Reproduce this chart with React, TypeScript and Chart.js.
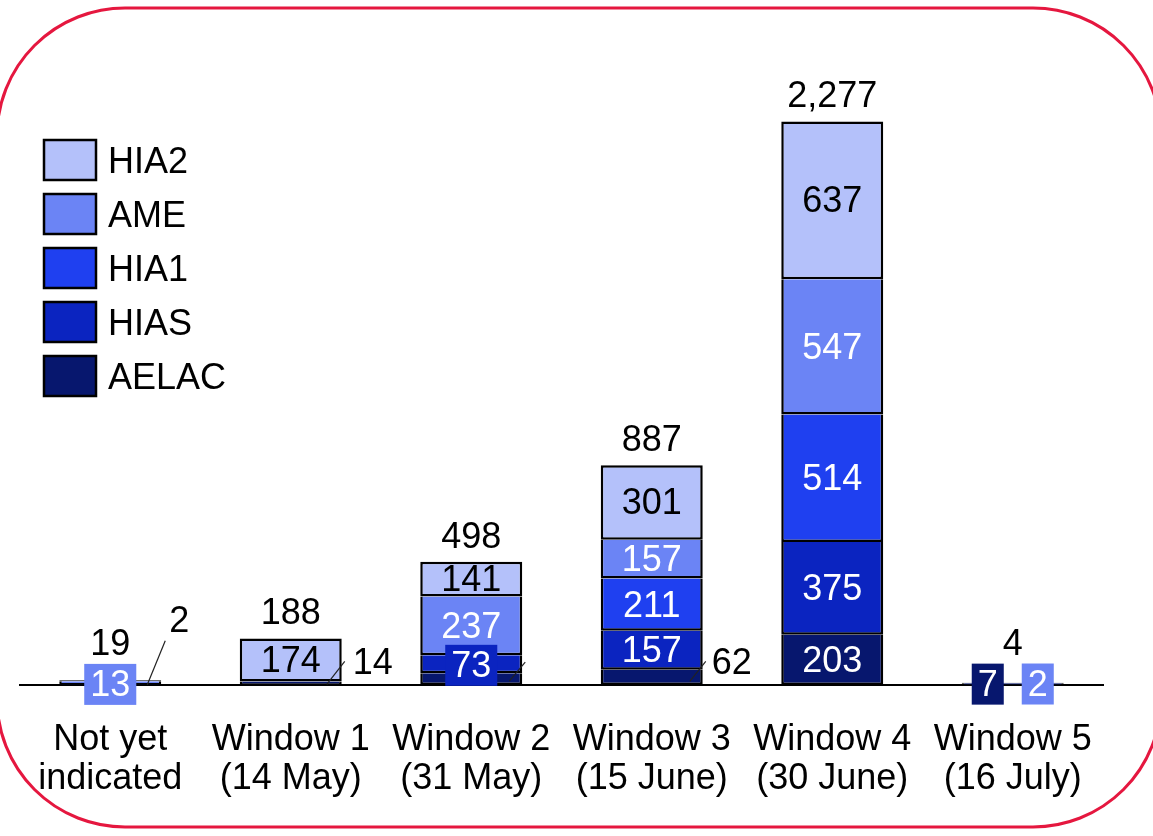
import React, { useEffect, useRef } from "react";
import { Chart, registerables } from "chart.js";

Chart.register(...registerables);

// ---- data ----
const categories = [
  ["Not yet", "indicated"],
  ["Window 1", "(14 May)"],
  ["Window 2", "(31 May)"],
  ["Window 3", "(15 June)"],
  ["Window 4", "(30 June)"],
  ["Window 5", "(16 July)"],
];
const seriesNames = ["AELAC", "HIAS", "HIA1", "AME", "HIA2"];
const AELAC = [2, 14, 47, 62, 203, 7];
const HIAS = [0, 0, 73, 157, 375, 0];
const HIA1 = [0, 0, 0, 211, 514, 0];
const AME = [13, 0, 237, 157, 547, 2];
const HIA2 = [4, 174, 141, 301, 637, 0];
const totals = [19, 188, 498, 887, 2277, 4];

const seriesValues = [AELAC, HIAS, HIA1, AME, HIA2];
const colors = ["#07176e", "#0b24c0", "#1f40f0", "#6b84f5", "#b4c1fa"];
const textColors = ["#ffffff", "#ffffff", "#ffffff", "#ffffff", "#000000"];

const FONT = '"Liberation Sans", Arial, Helvetica, sans-serif';
const FS = 36;

// label placement tweaks for small segments (key = datasetIndex-dataIndex)
type Spec =
  | { kind: "box"; dx: number; dy?: number }
  | { kind: "hide" }
  | { kind: "leader"; x1: number; y1: number; x2: number; y2: number; tx?: number; ty?: number; align?: CanvasTextAlign; noText?: boolean };
const specials: Record<string, Spec> = {
  "3-0": { kind: "box", dx: 0, dy: 1.5 },
  "0-0": { kind: "leader", x1: 37, y1: 0, x2: 55, y2: -44, tx: 69, ty: -63, align: "center" },
  "4-0": { kind: "hide" },
  "0-1": { kind: "leader", x1: 36, y1: 1, x2: 54, y2: -22, tx: 62, ty: -19, align: "left" },
  "0-2": { kind: "leader", x1: 38, y1: 2, x2: 54, y2: -17, noText: true },
  "1-2": { kind: "box", dx: 0, dy: 1 },
  "0-3": { kind: "leader", x1: 38, y1: 4, x2: 54, y2: -16, tx: 60, ty: -13, align: "left" },
  "0-5": { kind: "box", dx: -25 },
  "3-5": { kind: "box", dx: 25, dy: 1 },
};

const framePlugin = {
  id: "frame",
  beforeDraw(chart: any) {
    const ctx = chart.ctx;
    ctx.save();
    ctx.fillStyle = "#ffffff";
    ctx.fillRect(0, 0, chart.width, chart.height);
    ctx.strokeStyle = "#e5173f";
    ctx.lineWidth = 3;
    ctx.beginPath();
    (ctx as any).roundRect(-3, 8, 1164, 819, 128);
    ctx.stroke();
    ctx.restore();
  },
};

const legendPlugin = {
  id: "customLegend",
  afterDraw(chart: any) {
    const ctx = chart.ctx;
    ctx.save();
    ctx.font = `${FS}px ${FONT}`;
    ctx.textBaseline = "middle";
    ctx.textAlign = "left";
    const order = [4, 3, 2, 1, 0];
    order.forEach((d, k) => {
      const y = 140 + k * 54;
      ctx.fillStyle = colors[d];
      ctx.fillRect(44, y, 52, 40);
      ctx.strokeStyle = "#000";
      ctx.lineWidth = 2.5;
      ctx.strokeRect(44, y, 52, 40);
      ctx.fillStyle = "#000";
      ctx.fillText(seriesNames[d], 108, y + 23);
    });
    ctx.restore();
  },
};

const labelPlugin = {
  id: "valueLabels",
  afterDatasetsDraw(chart: any) {
    const ctx = chart.ctx;
    const yScale = chart.scales.y;
    ctx.save();
    ctx.font = `${FS}px ${FONT}`;
    ctx.textBaseline = "middle";
    chart.data.datasets.forEach((ds: any, d: number) => {
      const meta = chart.getDatasetMeta(d);
      meta.data.forEach((el: any, i: number) => {
        const v = ds.data[i];
        if (!v) return;
        const x = el.x;
        const cy = (el.y + el.base) / 2;
        const text = String(v);
        const spec = specials[`${d}-${i}`];
        if (spec && spec.kind === "hide") return;
        if (spec && spec.kind === "box") {
          const w = ctx.measureText(text).width + 12;
          const bx = x + spec.dx;
          const by = cy + (spec.dy || 0);
          ctx.fillStyle = colors[d];
          ctx.fillRect(bx - w / 2, by - 20.5, w, 41);
          ctx.fillStyle = "#ffffff";
          ctx.textAlign = "center";
          ctx.fillText(text, bx, by + 2);
          return;
        }
        if (spec && spec.kind === "leader") {
          ctx.strokeStyle = "#222";
          ctx.lineWidth = 1.2;
          ctx.beginPath();
          ctx.moveTo(x + spec.x1, cy + spec.y1);
          ctx.lineTo(x + spec.x2, cy + spec.y2);
          ctx.stroke();
          if (!spec.noText) {
            ctx.fillStyle = "#000";
            ctx.textAlign = spec.align || "left";
            ctx.fillText(text, x + (spec.tx || 0), cy + (spec.ty || 0));
          }
          return;
        }
        ctx.fillStyle = textColors[d];
        ctx.textAlign = "center";
        ctx.fillText(text, x, cy + 2);
      });
    });
    // totals
    const base = yScale.getPixelForValue(0);
    const meta0 = chart.getDatasetMeta(0);
    totals.forEach((t, i) => {
      const x = meta0.data[i].x;
      let sum = 0;
      seriesValues.forEach((s) => (sum += s[i]));
      const top = yScale.getPixelForValue(sum);
      const y = Math.min(top - 24, base - 40);
      ctx.fillStyle = "#000";
      ctx.textAlign = "center";
      ctx.fillText(t.toLocaleString("en-US"), x, y);
    });
    ctx.restore();
  },
};

export default function App() {
  const ref = useRef<HTMLCanvasElement | null>(null);
  useEffect(() => {
    if (!ref.current) return;
    const datasets = seriesValues.map((vals, d) => ({
      label: seriesNames[d],
      data: vals,
      backgroundColor: colors[d],
      borderColor: "#000000",
      borderSkipped: false as any,
      borderWidth: (c: any) => {
        if (c.type !== "data") return 2;
        const i = c.dataIndex;
        if (!seriesValues[d][i]) return 0;
        const isTop = seriesValues.slice(d + 1).every((s) => !s[i]);
        return { top: isTop ? 2.5 : 0, bottom: 2.5, left: 2.5, right: 2.5 };
      },
      barPercentage: 0.565,
      categoryPercentage: 1,
    }));
    const chart = new Chart(ref.current, {
      type: "bar",
      data: { labels: categories as any, datasets },
      options: {
        responsive: false,
        animation: false,
        maintainAspectRatio: false,
        layout: { padding: { left: 20, right: 50, top: 66, bottom: 0 } },
        plugins: { legend: { display: false }, tooltip: { enabled: false }, title: { display: false } },
        scales: {
          x: {
            stacked: true,
            grid: { display: false, drawTicks: false },
            border: { display: true, color: "#000000", width: 2 },
            ticks: {
              color: "#000000",
              font: { family: FONT, size: FS, lineHeight: 1.083 },
              padding: 36,
              maxRotation: 0,
              autoSkip: false,
            },
            afterFit: (s: any) => {
              s.height = 151;
            },
          },
          y: {
            stacked: true,
            display: false,
            min: 0,
            max: 2500,
          },
        },
      },
      plugins: [framePlugin, labelPlugin, legendPlugin],
    });
    return () => chart.destroy();
  }, []);
  return (
    <div style={{ position: "fixed", left: 0, top: 0, width: 1153, height: 836, background: "#fff" }}>
      <canvas ref={ref} width={1153} height={836} style={{ display: "block" }} />
    </div>
  );
}
